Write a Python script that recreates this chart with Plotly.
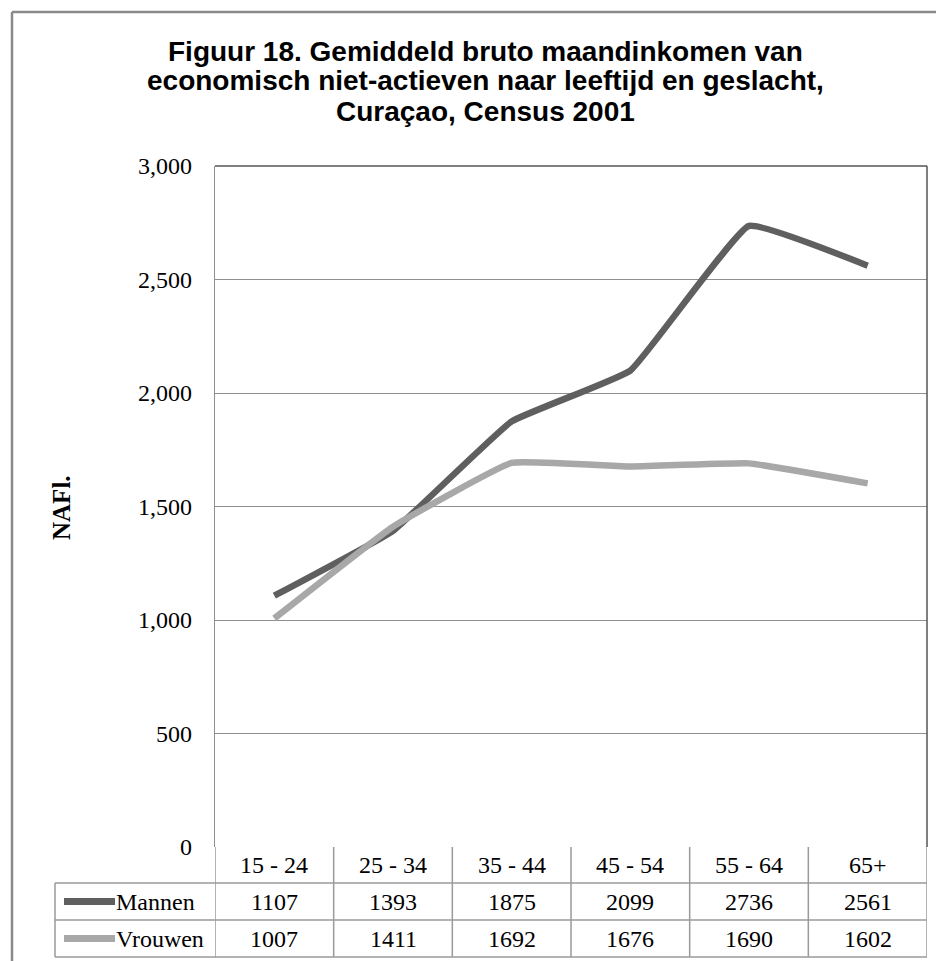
import plotly.graph_objects as go

# ---------------- data ----------------
categories = ["15 - 24", "25 - 34", "35 - 44", "45 - 54", "55 - 64", "65+"]
mannen = [1107, 1393, 1875, 2099, 2736, 2561]
vrouwen = [1007, 1411, 1692, 1676, 1690, 1602]
series_names = ["Mannen", "Vrouwen"]
series_values = [mannen, vrouwen]
series_colors = ["#5f5f5f", "#a8a8a8"]
y_ticks = [0, 500, 1000, 1500, 2000, 2500, 3000]
title_lines = ["Figuur 18. Gemiddeld bruto maandinkomen van",
               "economisch niet-actieven naar leeftijd en geslacht,",
               "Curaçao, Census 2001"]
y_title = "NAFl."

# ---------------- layout geometry (reference pixels) ----------------
W, H = 944, 961
OFF = 8                                       # page body margin
PL, PR, PT, PB = 215, 927, 166, 847           # plot area
ROW_Y = [847, 883, 920, 957]                  # table row boundaries
TABLE_LEFT = 55
SERIF = "Liberation Serif, Times New Roman, serif"
SANS = "Liberation Sans, Arial, sans-serif"
GRID = "#8f8f8f"
TGRID = "#9a9a9a"
TXT = 24


def px_x(px):
    return (px - PL) / (PR - PL)


def px_y(py):
    return (PB - py) / (PB - PT)


fig = go.Figure()
x_idx = list(range(len(categories)))
for name, vals, col in zip(series_names, series_values, series_colors):
    fig.add_trace(go.Scatter(
        x=x_idx, y=vals, name=name, mode="lines",
        line=dict(color=col, width=6.5, shape="spline", smoothing=0.3),
        showlegend=False, hoverinfo="x+y"))

shapes = []
annotations = []

# outer frame (top and left visible)
shapes.append(dict(type="line", xref="paper", yref="paper",
                   x0=px_x(12), x1=px_x(W + 10), y0=px_y(12), y1=px_y(12),
                   line=dict(color="#8a8a8a", width=2.5)))
shapes.append(dict(type="line", xref="paper", yref="paper",
                   x0=px_x(12), x1=px_x(12), y0=px_y(12), y1=px_y(H + 10),
                   line=dict(color="#8a8a8a", width=2.5)))

# plot-area top & right borders (darker)
shapes.append(dict(type="line", xref="paper", yref="paper",
                   x0=0, x1=1, y0=1, y1=1, line=dict(color="#555555", width=1.5)))
shapes.append(dict(type="line", xref="paper", yref="paper",
                   x0=1, x1=1, y0=0, y1=1, line=dict(color="#555555", width=1.5)))

# table: vertical lines at category boundaries
for i in range(len(categories) + 1):
    shapes.append(dict(type="line", xref="x", yref="paper",
                       x0=i - 0.5, x1=i - 0.5, y0=px_y(ROW_Y[0]), y1=px_y(ROW_Y[-1]),
                       line=dict(color=TGRID, width=1.5)))
# legend column left edge
shapes.append(dict(type="line", xref="paper", yref="paper",
                   x0=px_x(TABLE_LEFT), x1=px_x(TABLE_LEFT),
                   y0=px_y(ROW_Y[1]), y1=px_y(ROW_Y[-1]),
                   line=dict(color=TGRID, width=1.5)))
# horizontal table lines
for ry in ROW_Y[1:]:
    shapes.append(dict(type="line", xref="paper", yref="paper",
                       x0=px_x(TABLE_LEFT), x1=1, y0=px_y(ry), y1=px_y(ry),
                       line=dict(color=TGRID, width=1.5)))

# header row labels
hy = px_y((ROW_Y[0] + ROW_Y[1]) / 2)
for i, c in enumerate(categories):
    annotations.append(dict(x=i, y=hy, xref="x", yref="paper", text=c,
                            showarrow=False, font=dict(family=SERIF, size=TXT, color="black"),
                            xanchor="center", yanchor="middle"))

# data rows
for r, (name, vals, col) in enumerate(zip(series_names, series_values, series_colors)):
    cy = px_y((ROW_Y[r + 1] + ROW_Y[r + 2]) / 2)
    for i, v in enumerate(vals):
        annotations.append(dict(x=i, y=cy, xref="x", yref="paper", text=str(v),
                                showarrow=False, font=dict(family=SERIF, size=TXT, color="black"),
                                xanchor="center", yanchor="middle"))
    # legend key
    shapes.append(dict(type="line", xref="paper", yref="paper",
                       x0=px_x(64), x1=px_x(115), y0=cy, y1=cy,
                       line=dict(color=col, width=7)))
    annotations.append(dict(x=px_x(114), y=cy, xref="paper", yref="paper", text=name,
                            showarrow=False, font=dict(family=SERIF, size=TXT, color="black"),
                            xanchor="left", yanchor="middle"))

# y-axis title
annotations.append(dict(x=px_x(61), y=px_y(508), xref="paper", yref="paper",
                        text="<b>" + y_title + "</b>", textangle=-90, showarrow=False,
                        font=dict(family=SERIF, size=25, color="black"),
                        xanchor="center", yanchor="middle"))

# chart title (three tightly spaced lines)
for k, line in enumerate(title_lines):
    annotations.append(dict(x=px_x(485), y=px_y(51 + 30 * k), xref="paper", yref="paper",
                            text="<b>" + line + "</b>", showarrow=False,
                            font=dict(family=SANS, size=28, color="black"),
                            xanchor="center", yanchor="middle"))

fig.update_layout(
    width=W - OFF, height=H - OFF,
    margin=dict(l=PL - OFF, r=W - PR, t=PT - OFF, b=H - PB, pad=0),
    paper_bgcolor="white", plot_bgcolor="white",
    xaxis=dict(range=[-0.5, len(categories) - 0.5], showticklabels=False,
               showgrid=False, zeroline=False, showline=False, ticks="",
               fixedrange=True),
    yaxis=dict(range=[0, 3000], tickvals=y_ticks, tickformat=",",
               showgrid=True, gridcolor=GRID, gridwidth=1.3,
               zeroline=False, showline=True, linecolor=GRID, linewidth=1.3,
               ticks="", ticklabelstandoff=17,
               tickfont=dict(family=SERIF, size=TXT, color="black"),
               fixedrange=True),
    shapes=shapes, annotations=annotations,
)

fig.write_html("out.html")
